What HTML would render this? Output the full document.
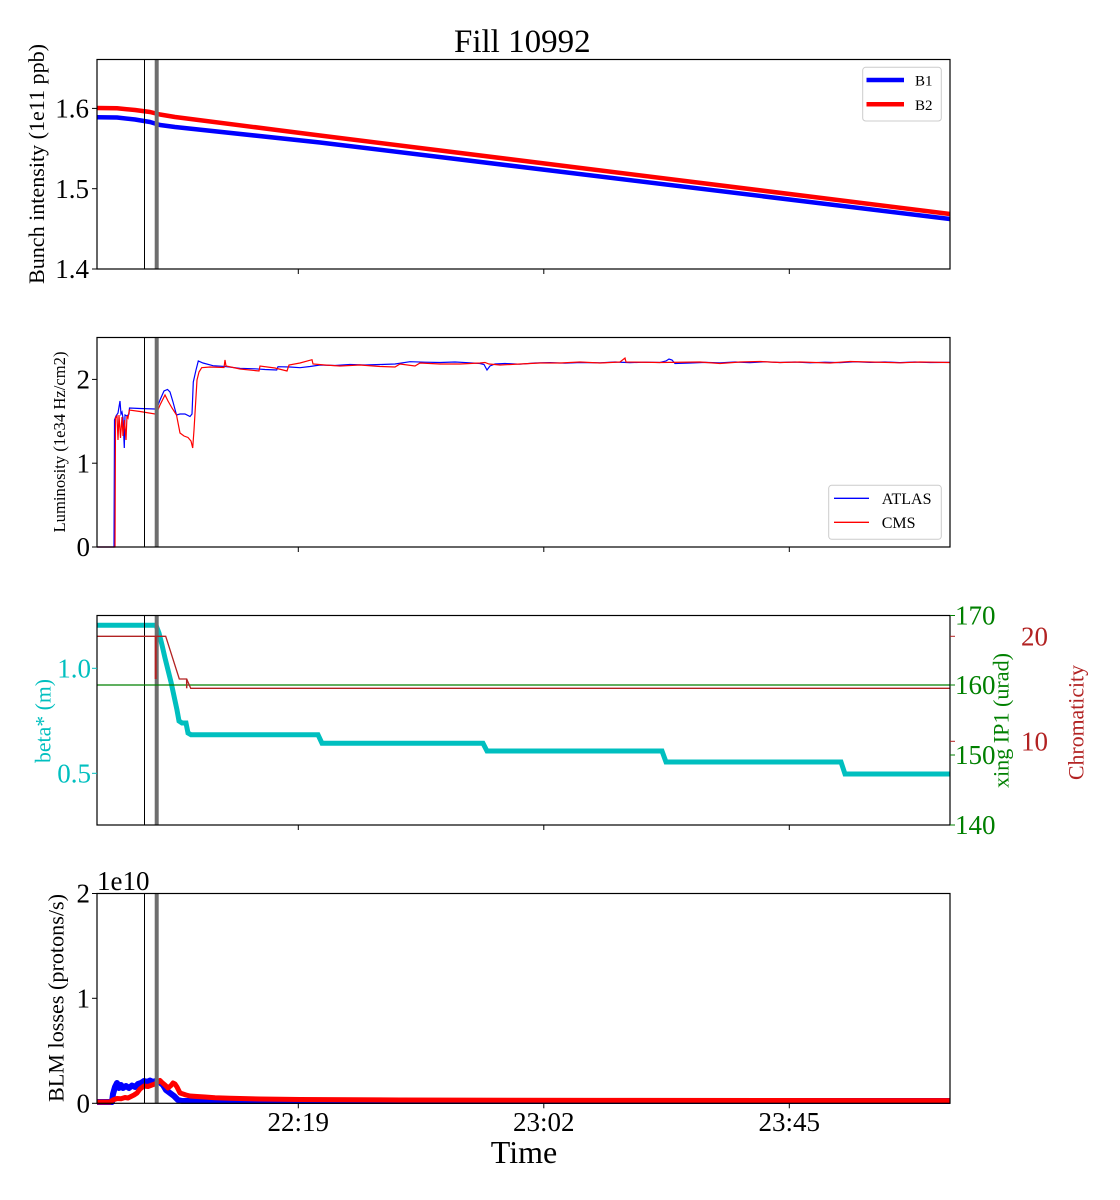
<!DOCTYPE html>
<html><head><meta charset="utf-8"><style>
html,body{margin:0;padding:0;background:#fff;}
svg{display:block;font-family:"Liberation Serif","DejaVu Serif",serif;}
</style></head><body>
<svg width="1120" height="1200" viewBox="0 0 1120 1200" xmlns="http://www.w3.org/2000/svg">
<rect width="1120" height="1200" fill="#fff"/>
<text x="522.3" y="52" font-size="33" text-anchor="middle">Fill 10992</text>

<!-- ============ PANEL 1 ============ -->
<g fill="none" stroke-linejoin="round" stroke-linecap="butt">
<path d="M97,117.3 L117,117.5 L135,119.5 L150,122 L160,125 L175,127 L320,142.5 L950,219" stroke="#0000ff" stroke-width="4.5"/>
<path d="M97,108 L117,108.3 L135,110 L150,112 L160,114.5 L175,117 L320,135.5 L950,214" stroke="#ff0000" stroke-width="4.5"/>
</g>
<line x1="144.5" y1="59.5" x2="144.5" y2="269" stroke="#000" stroke-width="1"/>
<line x1="156.7" y1="59.5" x2="156.7" y2="269" stroke="#6e6e6e" stroke-width="4"/>
<rect x="97" y="59.5" width="853" height="209.5" fill="none" stroke="#000" stroke-width="1.2"/>
<g stroke="#000" stroke-width="1">
<line x1="92" y1="108.4" x2="97" y2="108.4"/><line x1="92" y1="188.7" x2="97" y2="188.7"/><line x1="92" y1="269" x2="97" y2="269"/>
<line x1="298.3" y1="269" x2="298.3" y2="274"/><line x1="543.8" y1="269" x2="543.8" y2="274"/><line x1="789.3" y1="269" x2="789.3" y2="274"/>
</g>
<g font-size="27" text-anchor="end">
<text x="89" y="117.6">1.6</text><text x="89" y="197.9">1.5</text><text x="89" y="278.2">1.4</text>
</g>
<text transform="translate(44,164) rotate(-90)" font-size="22" text-anchor="middle" textLength="240" lengthAdjust="spacingAndGlyphs">Bunch intensity (1e11 ppb)</text>
<rect x="862.7" y="67.3" width="78.6" height="53.7" rx="3" fill="#fff" stroke="#cccccc" stroke-width="1"/>
<line x1="866.5" y1="80" x2="904" y2="80" stroke="#0000ff" stroke-width="4.5"/>
<line x1="866.5" y1="104.3" x2="904" y2="104.3" stroke="#ff0000" stroke-width="4.5"/>
<text x="915" y="85.5" font-size="15">B1</text>
<text x="915" y="110" font-size="15">B2</text>

<!-- ============ PANEL 2 ============ -->
<g fill="none" stroke-linejoin="miter" stroke-width="1.2">
<path stroke="#0000ff" d="M97,547 L114,547 L114.5,420 L116,416 L118,413 L120,401 L121,414 L122,412 L123,418 L124.3,448 L125,415 L127,416 L129,414 L129.5,408 L140,408.5 L155,409 L157,408 L160,400 L164,391 L167.5,389.5 L170,392 L173,402 L176.5,415 L180,414 L185,414 L190,416.5 L192,414 L193.3,382 L196,370 L198.3,361 L203,363 L213,365.7 L225,366.5 L240,368.3 L255,368.8 L265,369.5 L276.7,370 L278,366.7 L290,367 L300,367.7 L310,366.5 L320,365 L335,365.5 L350,364.5 L365,365 L380,364.5 L395,364 L410,361.7 L425,362.2 L440,362.5 L455,362 L470,362.8 L480,363.5 L484,364.5 L487,370 L490,366 L495,364 L505,363.5 L520,364.2 L535,363 L550,362.6 L565,363.2 L580,362.5 L600,362.8 L615,362 L630,362.6 L645,362.2 L660,362.5 L666,361 L669,359 L672,360 L675,363.5 L690,363 L705,362.4 L720,362.8 L735,362 L750,362.6 L765,361.8 L780,362.5 L795,362 L810,362.8 L825,362.2 L840,362.6 L855,361.8 L870,362.4 L885,362 L900,362.6 L915,362 L930,362.5 L950,362.4"/>
<path stroke="#ff0000" d="M97,547 L115,547 L115.5,418 L117,416 L118,440 L119,415 L120.5,438 L122,417 L123,436 L124.5,420 L126,440 L127,416 L128,418 L129.3,410 L140,411.5 L155,414 L157,412 L160,405 L165,395 L168,401 L172,408 L176.5,415 L180,433 L184,436 L188,437.5 L191,441 L192.7,448 L194,430 L197,380 L199,372 L201.7,367.7 L210,367 L224,367.5 L225,360 L226,366 L240,369 L259,371 L260,366 L275,368 L287,371 L289,365 L300,363 L312,359.7 L313,364 L325,365 L340,366 L360,365 L380,366.5 L395,367 L400,364 L415,366 L420,363 L440,364 L460,364 L480,363 L485,362.5 L489,364 L500,365 L520,364 L540,363 L560,363 L580,362 L600,363 L620,362 L625,358 L626,362 L660,362.5 L700,362 L720,363.5 L740,362 L760,361.5 L780,362.5 L800,362 L830,363 L850,361.5 L870,362 L900,362.8 L920,362 L950,362.5"/>
</g>
<line x1="144.5" y1="337.5" x2="144.5" y2="547" stroke="#000" stroke-width="1"/>
<line x1="156.7" y1="337.5" x2="156.7" y2="547" stroke="#6e6e6e" stroke-width="4"/>
<rect x="97" y="337.5" width="853" height="209.5" fill="none" stroke="#000" stroke-width="1.2"/>
<g stroke="#000" stroke-width="1">
<line x1="92" y1="547" x2="97" y2="547"/><line x1="92" y1="463.2" x2="97" y2="463.2"/><line x1="92" y1="379.4" x2="97" y2="379.4"/>
<line x1="298.3" y1="547" x2="298.3" y2="552"/><line x1="543.8" y1="547" x2="543.8" y2="552"/><line x1="789.3" y1="547" x2="789.3" y2="552"/>
</g>
<g font-size="27" text-anchor="end">
<text x="90" y="556.2">0</text><text x="90" y="472.4">1</text><text x="90" y="388.6">2</text>
</g>
<text transform="translate(64.8,442) rotate(-90)" font-size="16.6" text-anchor="middle" textLength="181" lengthAdjust="spacingAndGlyphs">Luminosity (1e34 Hz/cm2)</text>
<rect x="828.7" y="485.3" width="112.6" height="54" rx="3" fill="#fff" stroke="#cccccc" stroke-width="1"/>
<line x1="834" y1="498.3" x2="869" y2="498.3" stroke="#0000ff" stroke-width="1.3"/>
<line x1="834" y1="522.3" x2="869" y2="522.3" stroke="#ff0000" stroke-width="1.3"/>
<text x="881.7" y="504" font-size="16">ATLAS</text>
<text x="881.7" y="528" font-size="16">CMS</text>

<!-- ============ PANEL 3 ============ -->
<path fill="none" stroke="#00bfbf" stroke-width="5" stroke-linejoin="miter" d="M97,625.3 L156,625.3 L159,633 L162,645 L165,658 L168,670 L171,682 L174,696 L177,710 L179,721 L182,723 L186,723 L188,733 L191,734.7 L318,734.7 L322,743.3 L483,743.3 L487,751 L662,751 L666,762 L841,762 L845,774 L950,774"/>
<line x1="144.5" y1="615.5" x2="144.5" y2="825" stroke="#000" stroke-width="1"/>
<line x1="156.7" y1="615.5" x2="156.7" y2="825" stroke="#6e6e6e" stroke-width="4"/>
<line x1="97" y1="685" x2="950" y2="685" stroke="#008000" stroke-width="1.3"/>
<path fill="none" stroke="#b22222" stroke-width="1.3" d="M97,636.3 L165.7,636.3 L179.3,679 L186.7,679 L190.7,688.3 L950,688.3"/>
<line x1="155.7" y1="636.3" x2="155.7" y2="679" stroke="#b22222" stroke-width="2"/>
<line x1="186.7" y1="679" x2="186.7" y2="688.3" stroke="#b22222" stroke-width="1.5"/>
<rect x="97" y="615.5" width="853" height="209.5" fill="none" stroke="#000" stroke-width="1.2"/>
<g stroke="#00bfbf" stroke-width="1">
<line x1="92" y1="668.3" x2="97" y2="668.3"/><line x1="92" y1="773.3" x2="97" y2="773.3"/>
</g>
<g stroke="#008000" stroke-width="1">
<line x1="950" y1="615.5" x2="955" y2="615.5"/><line x1="950" y1="685" x2="955" y2="685"/><line x1="950" y1="755" x2="955" y2="755"/><line x1="950" y1="825" x2="955" y2="825"/>
</g>
<g stroke="#b22222" stroke-width="1">
<line x1="950" y1="636.3" x2="955" y2="636.3"/><line x1="950" y1="741.3" x2="955" y2="741.3"/>
</g>
<g stroke="#000" stroke-width="1">
<line x1="298.3" y1="825" x2="298.3" y2="830"/><line x1="543.8" y1="825" x2="543.8" y2="830"/><line x1="789.3" y1="825" x2="789.3" y2="830"/>
</g>
<g font-size="27" text-anchor="end" fill="#00bfbf">
<text x="91" y="677.5">1.0</text><text x="91" y="782.5">0.5</text>
</g>
<g font-size="27" fill="#008000">
<text x="955" y="624.5">170</text><text x="955" y="694.2">160</text><text x="955" y="764.2">150</text><text x="955" y="834.2">140</text>
</g>
<g font-size="27" fill="#b22222">
<text x="1021" y="645.5">20</text><text x="1021" y="750.5">10</text>
</g>
<text transform="translate(50.5,721) rotate(-90)" font-size="22" fill="#00bfbf" text-anchor="middle" textLength="84" lengthAdjust="spacingAndGlyphs">beta* (m)</text>
<text transform="translate(1008.5,720.5) rotate(-90)" font-size="22" fill="#008000" text-anchor="middle" textLength="135" lengthAdjust="spacingAndGlyphs">xing IP1 (urad)</text>
<text transform="translate(1083.5,722.5) rotate(-90)" font-size="22" fill="#b22222" text-anchor="middle" textLength="115" lengthAdjust="spacingAndGlyphs">Chromaticity</text>

<!-- ============ PANEL 4 ============ -->
<g fill="none" stroke-linejoin="round">
<path stroke="#0000ff" stroke-width="6" d="M97,1102 L112,1102 L113,1094 L115,1087 L117,1083 L119,1088 L121,1085 L123,1088 L126,1086 L129,1088 L132,1085.5 L135,1087 L138,1084 L141,1083 L144,1081 L147,1082 L150,1080.5 L153,1082 L156,1081 L160,1082.5 L163,1085 L166,1090 L170,1093 L174,1096 L178,1100 L182,1101 L260,1101 L950,1101"/>
<path stroke="#ff0000" stroke-width="5" d="M97,1102 L110,1102 L113,1100 L117,1098.5 L121,1098.8 L125,1097.5 L128,1098 L131,1096.5 L134,1095 L137,1093 L140,1089 L144,1086 L148,1086.5 L152,1085 L155,1084 L158,1082 L160,1080.5 L162,1082.5 L165,1085 L168,1088 L171,1085.5 L173,1083 L175,1084 L177,1087 L180,1093 L183,1094 L186,1095 L190,1096 L197,1096.5 L205,1097 L215,1097.8 L230,1098.3 L245,1098.6 L260,1099 L300,1099.5 L400,1100 L600,1100.4 L950,1100.6"/>
</g>
<line x1="144.5" y1="893.5" x2="144.5" y2="1103.3" stroke="#000" stroke-width="1"/>
<line x1="156.7" y1="893.5" x2="156.7" y2="1103.3" stroke="#6e6e6e" stroke-width="4"/>
<rect x="97" y="893.5" width="853" height="209.8" fill="none" stroke="#000" stroke-width="1.2"/>
<g stroke="#000" stroke-width="1">
<line x1="92" y1="1103.3" x2="97" y2="1103.3"/><line x1="92" y1="998.3" x2="97" y2="998.3"/><line x1="92" y1="893.5" x2="97" y2="893.5"/>
<line x1="298.3" y1="1103.3" x2="298.3" y2="1108.3"/><line x1="543.8" y1="1103.3" x2="543.8" y2="1108.3"/><line x1="789.3" y1="1103.3" x2="789.3" y2="1108.3"/>
</g>
<g font-size="27" text-anchor="end">
<text x="90" y="1112.5">0</text><text x="90" y="1007.5">1</text><text x="90" y="902.6">2</text>
</g>
<text x="97" y="890" font-size="27">1e10</text>
<g font-size="27" text-anchor="middle">
<text x="298.3" y="1131">22:19</text><text x="543.8" y="1131">23:02</text><text x="789.3" y="1131">23:45</text>
</g>
<text x="524" y="1163" font-size="32" text-anchor="middle">Time</text>
<text transform="translate(63.5,998) rotate(-90)" font-size="22" text-anchor="middle" textLength="208" lengthAdjust="spacingAndGlyphs">BLM losses (protons/s)</text>
</svg>
</body></html>
